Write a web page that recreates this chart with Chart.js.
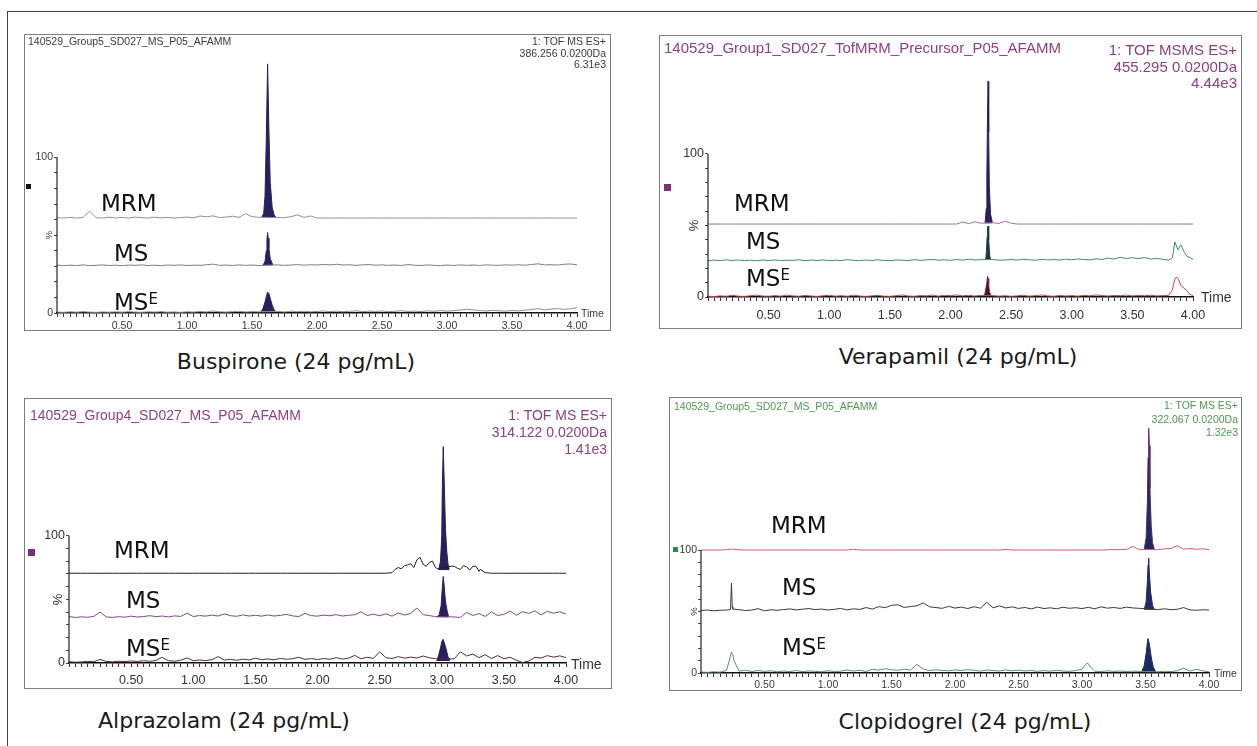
<!DOCTYPE html>
<html><head><meta charset="utf-8">
<script src="https://cdn.jsdelivr.net/npm/chart.js@4.4.1/dist/chart.umd.min.js"></script>
<style>
html,body{margin:0;padding:0;background:#fff;}
body{width:1257px;height:746px;overflow:hidden;position:relative;font-family:"DejaVu Sans",sans-serif;}
.frame{position:absolute;left:7px;top:11px;width:1400px;height:900px;border-left:1.5px solid #444;border-top:1.5px solid #444;}
.box{position:absolute;border:1.5px solid #7d7d7d;box-sizing:border-box;pointer-events:none;}
canvas{position:absolute;}
.hdr{position:absolute;font-family:"Liberation Sans",Arial,sans-serif;white-space:nowrap;}
.hr{text-align:right;}
.lbl{position:absolute;font-family:"DejaVu Sans",sans-serif;font-size:23px;line-height:1;color:#111;transform:translateY(-50%);white-space:nowrap;}
.lbl .e{font-size:15px;vertical-align:top;line-height:1;position:relative;top:1px;}
.cap{position:absolute;width:400px;text-align:center;font-family:"DejaVu Sans",sans-serif;font-size:22px;line-height:1;color:#1a1a1a;transform:translateY(-50%);}
.sq{position:absolute;}
</style>
</head><body>
<div class="frame"></div>

<canvas id="c1" width="587" height="297" style="left:24px;top:34px"></canvas>
<canvas id="c2" width="583" height="294" style="left:659px;top:35px"></canvas>
<canvas id="c3" width="588" height="291" style="left:24px;top:398px"></canvas>
<canvas id="c4" width="573" height="294" style="left:669px;top:397px"></canvas>

<div class="box" style="left:24px;top:34px;width:587px;height:297px"></div>
<div class="box" style="left:659px;top:35px;width:583px;height:294px"></div>
<div class="box" style="left:24px;top:398px;width:588px;height:291px"></div>
<div class="box" style="left:669px;top:397px;width:573px;height:294px"></div>

<!-- headers -->
<div class="hdr" style="left:28px;top:36px;font-size:10.5px;line-height:11.5px;color:#3a3a3a">140529_Group5_SD027_MS_P05_AFAMM</div>
<div class="hdr hr" style="right:651px;top:36px;font-size:10.5px;line-height:11.5px;color:#3a3a3a">1: TOF MS ES+<br>386.256 0.0200Da<br>6.31e3</div>

<div class="hdr" style="left:664px;top:40px;font-size:15px;line-height:16.5px;color:#8e3f85">140529_Group1_SD027_TofMRM_Precursor_P05_AFAMM</div>
<div class="hdr hr" style="right:20px;top:42px;font-size:15px;line-height:16.5px;color:#8e3f85">1: TOF MSMS ES+<br>455.295 0.0200Da<br>4.44e3</div>

<div class="hdr" style="left:30px;top:406.5px;font-size:14px;line-height:17px;color:#8e3f85">140529_Group4_SD027_MS_P05_AFAMM</div>
<div class="hdr hr" style="right:650px;top:406.5px;font-size:14px;line-height:17px;color:#8e3f85">1: TOF MS ES+<br>314.122 0.0200Da<br>1.41e3</div>

<div class="hdr" style="left:674px;top:400px;font-size:10.5px;line-height:13.5px;color:#4e9a4e">140529_Group5_SD027_MS_P05_AFAMM</div>
<div class="hdr hr" style="right:19px;top:399px;font-size:10.5px;line-height:13.5px;color:#4e9a4e">1: TOF MS ES+<br>322.067 0.0200Da<br>1.32e3</div>

<!-- markers -->
<div class="sq" style="left:26px;top:184px;width:5px;height:5px;background:#111"></div>
<div class="sq" style="left:664px;top:184px;width:7px;height:7px;background:#7a2f78"></div>
<div class="sq" style="left:28px;top:549px;width:7px;height:7px;background:#7a2f78"></div>
<div class="sq" style="left:673px;top:547px;width:5px;height:5px;background:#2e8a3e"></div>

<!-- trace labels -->
<div class="lbl" style="left:101px;top:203px">MRM</div>
<div class="lbl" style="left:114px;top:253px">MS</div>
<div class="lbl" style="left:114px;top:302px">MS<span class="e">E</span></div>

<div class="lbl" style="left:734px;top:203px">MRM</div>
<div class="lbl" style="left:746px;top:241px">MS</div>
<div class="lbl" style="left:746px;top:278px">MS<span class="e">E</span></div>

<div class="lbl" style="left:114px;top:550px">MRM</div>
<div class="lbl" style="left:126px;top:600px">MS</div>
<div class="lbl" style="left:126px;top:648px">MS<span class="e">E</span></div>

<div class="lbl" style="left:771px;top:525px">MRM</div>
<div class="lbl" style="left:782px;top:587px">MS</div>
<div class="lbl" style="left:782px;top:647px">MS<span class="e">E</span></div>

<!-- captions -->
<div class="cap" style="left:96px;top:362px">Buspirone (24 pg/mL)</div>
<div class="cap" style="left:758px;top:357px">Verapamil (24 pg/mL)</div>
<div class="cap" style="left:24px;top:721px">Alprazolam (24 pg/mL)</div>
<div class="cap" style="left:765px;top:722px">Clopidogrel (24 pg/mL)</div>

<script>
// ---------------- data ----------------
const TIME = [0.00,0.05,0.10,0.15,0.20,0.25,0.30,0.35,0.40,0.45,
  0.50,0.55,0.60,0.65,0.70,0.75,0.80,0.85,0.90,0.95,
  1.00,1.05,1.10,1.15,1.20,1.25,1.30,1.35,1.40,1.45,
  1.50,1.55,1.60,1.65,1.70,1.75,1.80,1.85,1.90,1.95,
  2.00,2.05,2.10,2.15,2.20,2.25,2.30,2.35,2.40,2.45,
  2.50,2.55,2.60,2.65,2.70,2.75,2.80,2.85,2.90,2.95,
  3.00,3.05,3.10,3.15,3.20,3.25,3.30,3.35,3.40,3.45,
  3.50,3.55,3.60,3.65,3.70,3.75,3.80,3.85,3.90,3.95,
  4.00];
const X_TICK_LABELS = ['0.50','1.00','1.50','2.00','2.50','3.00','3.50','4.00'];
const Y_TICK_LABELS = ['0','100'];

// Buspirone
const BUSP_MRM = [61.2,61.0,61.4,61.0,61.3,65.5,61.2,61.0,61.5,61.1,
  61.4,61.0,61.6,61.2,61.0,61.5,61.1,61.4,61.0,61.3,
  61.6,61.1,62.3,61.8,62.4,61.3,61.6,62.2,61.4,63.8,
  61.8,61.5,61.5,61.5,61.3,61.2,61.9,63.0,61.4,62.3,
  61,61,61,61,61,61,61,61,61,61,
  61,61,61,61,61,61,61,61,61,61,
  61,61,61,61,61,61,61,61,61,61,
  61,61,61,61,61,61,61,61,61,61,
  61];
const BUSP_MRM_PEAK_T = [1.575,1.59,1.60,1.61,1.62,1.63,1.64,1.655,1.67,1.685];
const BUSP_MRM_PEAK_Y = [61.4,64,75,112,160,118,84,68,63,61.3];
const BUSP_MS = [30.8,30.4,30.7,30.5,30.9,30.4,30.6,30.9,30.5,30.7,
  30.4,30.8,30.6,30.9,30.5,30.7,30.4,30.8,30.6,30.9,
  30.5,30.7,30.6,31.0,31.4,30.6,30.8,30.5,30.9,30.6,
  30.8,30.5,30.7,30.7,30.9,30.6,30.8,31.1,30.7,31.0,
  30.8,31.2,30.9,31.3,30.8,31.0,30.6,30.9,31.1,30.7,
  30.9,30.6,30.8,30.5,31.1,30.7,30.5,30.9,30.6,30.4,
  30.8,30.5,30.9,30.6,30.8,30.5,30.9,30.7,30.6,30.9,
  30.7,31.0,30.7,31.1,31.6,30.9,31.0,30.8,31.3,31.5,
  30.9];
const BUSP_MS_PEAK_T = [1.585,1.60,1.61,1.615,1.62,1.625,1.63,1.64,1.66];
const BUSP_MS_PEAK_Y = [30.7,33,40,47,51.6,48,42,35,30.8];
const BUSP_MSE = [0.6,0.4,0.8,0.5,0.9,0.6,0.4,0.7,0.5,0.8,
  0.5,0.9,0.6,0.4,0.8,0.6,0.9,0.5,0.7,0.4,
  0.8,0.6,1.0,0.7,1.3,0.8,0.6,0.9,1.1,0.7,
  0.9,0.8,0.8,0.8,1.0,0.7,1.2,0.9,1.1,0.8,
  1.0,1.3,0.9,1.2,0.8,1.1,1.4,0.9,1.2,1.0,
  1.3,0.9,1.1,1.5,1.0,1.2,0.9,1.4,1.1,1.6,
  1.2,1.5,1.9,2.4,2.0,1.6,1.3,1.7,1.4,1.2,
  1.6,1.3,1.8,2.2,2.8,2.0,2.5,2.9,2.3,2.7,
  3.5];
const BUSP_MSE_PEAK_T = [1.57,1.585,1.60,1.61,1.62,1.63,1.64,1.655,1.67,1.685];
const BUSP_MSE_PEAK_Y = [0.8,3,7,10.5,13.4,12.5,9.5,5,2,0.8];

// Verapamil
const VERA_MRM = [51,51,51,51,51,51,51,51,51,51,
  51,51,51,51,51,51,51,51,51,51,
  51,51,51,51,51,51,51,51,51,51,
  51,51,51,51,51,51,51,51,51,51,
  51,51,52.4,51.3,52.6,51.6,51.5,51.9,51.4,53.0,
  51.6,51,51,51,51,51,51,51,51,51,
  51,51,51,51,51,51,51,51,51,51,
  51,51,51,51,51,51,51,51,51,51,
  51];
const VERA_MRM_PEAK_T = [2.285,2.295,2.30,2.305,2.31,2.315,2.32,2.33,2.345];
const VERA_MRM_PEAK_Y = [51.5,62,85,125,151,115,78,58,52];
const VERA_MS = [25.3,25.8,25.4,26.0,25.5,25.9,25.4,25.7,25.3,25.8,
  25.5,25.9,25.4,25.7,25.6,26.0,25.4,25.8,25.5,25.9,
  25.4,25.7,25.5,26.1,25.6,25.4,25.8,25.5,26.0,25.6,
  25.4,25.9,25.7,25.5,26.1,25.6,25.9,26.3,25.7,26.0,
  25.6,26.2,25.8,26.4,25.9,26.1,25.8,26.3,25.7,25.9,
  26.2,25.8,26.4,26.0,25.7,26.3,25.9,26.2,25.8,26.5,
  26.0,26.6,26.2,25.9,26.7,26.3,27.2,26.5,27.8,26.9,
  27.5,26.8,27.6,26.5,27.0,26.4,25.8,38.5,36.5,28.5,
  26.3];
const VERA_MS_EXTRA_T = [3.83,3.875,3.93];
const VERA_MS_EXTRA_Y = [27.5,33,31];
const VERA_MS_PEAK_T = [2.29,2.297,2.302,2.306,2.31,2.315,2.322,2.33];
const VERA_MS_PEAK_Y = [26,32,42,48,49.6,40,30,26];
const VERA_MSE = [0.5,0.3,0.8,0.5,1.2,0.6,0.4,0.9,1.3,0.7,
  0.5,1.0,0.6,1.3,0.8,0.5,1.1,0.7,0.4,0.9,
  1.2,0.6,0.9,0.5,1.3,0.7,0.4,0.8,1.1,0.6,
  0.5,0.9,1.4,0.7,0.5,1.0,0.8,1.3,0.6,1.2,
  0.9,1.4,0.8,1.2,0.7,1.1,0.8,1.0,0.6,0.9,
  0.5,0.8,1.2,0.6,1.0,1.4,0.8,0.5,1.1,0.7,
  1.0,0.6,1.2,0.8,1.4,1.0,0.7,1.1,0.9,1.3,
  0.8,1.1,0.9,1.2,0.8,1.0,1.2,12.5,8.0,4.5,
  1.0];
const VERA_MSE_EXTRA_T = [3.83,3.865,3.88,3.97];
const VERA_MSE_EXTRA_Y = [5,14,12.5,2];
const VERA_MSE_PEAK_T = [2.28,2.29,2.30,2.305,2.31,2.315,2.32,2.335];
const VERA_MSE_PEAK_Y = [0.8,5,10,14.5,13,9,4,0.8];

// Alprazolam
const ALPR_MRM = [70.5,70.5,70.5,70.5,70.5,70.5,70.5,70.5,70.5,70.5,
  70.5,70.5,70.5,70.5,70.5,70.5,70.5,70.5,70.5,70.5,
  70.5,70.5,70.5,70.5,70.5,70.5,70.5,70.5,70.5,70.5,
  70.5,70.5,70.5,70.5,70.5,70.5,70.5,70.5,70.5,70.5,
  70.5,70.5,70.5,70.5,70.5,70.5,70.5,70.5,70.5,70.5,
  70.5,70.5,71,75,76.5,78,81,77.5,79,75,
  74,74,76,73.5,75.5,76,72,71,70.5,70.5,
  70.5,70.5,70.5,70.5,70.5,70.5,70.5,70.5,70.5,70.5,
  70.5];
const ALPR_MRM_EXTRA_T = [2.625,2.675,2.725,2.775,2.825,2.875,2.925,2.965,3.075,3.125,3.175,3.225,3.275,3.31];
const ALPR_MRM_EXTRA_Y = [73.5,74,77,75,83,76,80,74,76,74.5,76.5,73,76,73.5];
const ALPR_MRM_PEAK_T = [2.975,2.99,3.00,3.005,3.012,3.02,3.03,3.04,3.05,3.06];
const ALPR_MRM_PEAK_Y = [73,80,100,140,170,142,105,88,78,73.5];
const ALPR_MS = [36.5,35.8,36.3,35.9,36.6,40.0,36.2,35.8,36.4,36.0,
  36.8,36.1,36.5,37.2,36.4,36.9,36.2,37.0,36.6,39.2,
  36.5,37.3,36.8,37.6,36.9,38.6,37.2,36.7,37.8,36.9,
  37.5,36.8,37.7,36.9,37.4,38.2,37.0,36.5,39.0,37.2,
  36.8,37.6,37.1,38.0,36.9,37.5,37.9,40.2,37.3,38.4,
  37.1,38.6,36.8,39.3,37.7,38.9,43.2,38.0,37.2,36.5,
  37.0,39.5,36.2,35.8,39.8,37.4,38.8,36.6,40.1,37.3,
  38.2,40.8,37.5,40.3,38.9,41.0,37.8,40.6,39.1,40.2,
  38.5];
const ALPR_MS_PEAK_T = [2.96,2.98,2.995,3.005,3.012,3.02,3.03,3.045,3.055];
const ALPR_MS_PEAK_Y = [36,38,45,60,68,60,48,40,36.5];
const ALPR_MSE = [1.0,0.6,0.8,1.3,1.0,2.8,1.2,0.9,1.4,1.1,
  1.6,1.2,1.8,1.3,2.0,4.5,1.8,1.4,2.2,4.0,
  1.7,2.4,1.9,2.6,5.0,2.3,2.9,2.1,3.0,2.4,
  3.8,2.6,3.2,2.5,3.6,2.9,3.4,4.5,2.8,3.5,
  2.7,3.5,2.9,4.2,3.1,3.8,6.0,3.3,4.5,3.6,
  8.8,4.2,3.5,5.0,3.8,4.6,3.9,5.5,4.1,3.4,
  3.0,4.0,3.2,8.8,5.5,7.0,4.2,6.5,3.5,5.8,
  3.4,4.5,2.2,0.4,1.5,4.5,3.9,5.8,4.6,5.6,
  4.2];
const ALPR_MSE_PEAK_T = [2.96,2.975,2.99,3.00,3.01,3.02,3.035,3.05,3.065];
const ALPR_MSE_PEAK_Y = [1.5,6,12,16.5,18.6,16,11,5,2];

// Clopidogrel
const CLOP_MRM = [100,100,100,100,100.3,100.8,100.2,100,100,100,
  100,100,100,100,100,100,100,100,100,100,
  100,100,100,100,100.6,100,100,100,100,100,
  100,100,100,100,100,100,100,100,100,100,
  100,100,100,100,100,100,100,100,100.5,100,
  100,100,100,100,100,100,100,100,100,100,
  100,100,100,100,100.2,100.4,100.3,100.5,103,100.4,
  100.5,100.8,100.3,101,101.2,103.5,100.8,101.2,100.6,101,
  100.4];
const CLOP_MRM_PEAK_T = [3.49,3.505,3.515,3.52,3.525,3.53,3.535,3.545,3.555,3.57];
const CLOP_MRM_PEAK_Y = [100.5,110,140,175,199,185,150,120,106,100.6];
const CLOP_MS = [50.8,51.2,50.6,51.0,51.2,52.0,51.5,50.8,51.2,52.3,
  50.6,51.4,51.0,51.6,52.1,51.3,51.9,52.4,51.5,52.0,
  51.2,51.8,52.5,51.3,52.2,51.7,53.2,52.0,54.0,53.1,
  55.0,55.5,53.3,54.1,54.6,57.0,53.8,53.2,52.6,54.2,
  52.8,53.6,52.4,53.9,52.7,57.5,53.0,54.6,52.9,53.8,
  52.5,53.3,52.1,53.6,52.4,53.0,52.2,53.5,52.6,53.1,
  52.4,53.4,52.2,53.8,52.7,53.3,52.5,53.6,52.9,52.6,
  52.0,52.8,51.6,52.2,51.5,51.8,53.2,51.3,51.0,51.4,
  51.2];
const CLOP_MS_EXTRA_T = [0.232,0.24,0.246];
const CLOP_MS_EXTRA_Y = [51.5,73,54];
const CLOP_MS_PEAK_T = [3.49,3.505,3.515,3.52,3.525,3.53,3.54,3.555,3.57];
const CLOP_MS_PEAK_Y = [51.5,58,75,88,93.5,82,66,55,51.5];
const CLOP_MSE = [0.8,0.5,1.0,0.7,2.0,15.0,1.5,2.2,1.2,2.0,
  1.3,1.8,1.0,1.6,1.2,2.0,1.1,1.7,1.3,1.0,
  1.8,1.2,1.5,2.4,1.6,2.2,1.3,3.0,2.4,3.5,
  2.6,2.2,3.1,2.4,7.0,3.2,2.0,2.6,2.1,1.8,
  2.5,2.0,2.8,2.2,1.5,2.4,2.0,1.6,2.5,1.8,
  2.3,1.7,2.0,1.4,1.9,1.5,2.2,1.6,1.3,2.0,
  3.0,7.5,1.5,1.2,1.8,1.3,1.6,1.2,1.5,1.3,
  1.0,1.2,1.0,1.4,1.2,1.8,4.0,1.5,3.0,1.8,
  1.0];
const CLOP_MSE_EXTRA_T = [0.22,0.24,0.26,3.02,3.04,3.07];
const CLOP_MSE_EXTRA_Y = [9,17,10,6,8,4.5];
const CLOP_MSE_PEAK_T = [3.47,3.49,3.505,3.515,3.52,3.53,3.545,3.56,3.58];
const CLOP_MSE_PEAK_Y = [1,6,16,25,28,24,13,5,1];

// ---------------- building ----------------
function buildLine(grid, peakT, extraT, extraY) {
  let pts = TIME.map((t, i) => ({x: t, y: grid[i]}));
  if (peakT) {
    const a = peakT[0], b = peakT[peakT.length - 1];
    pts = pts.filter(p => p.x < a || p.x > b);
  }
  if (extraT) extraT.forEach((t, i) => pts.push({x: t, y: extraY[i]}));
  pts.sort((p, q) => p.x - q.x);
  return pts;
}
function peakLine(peakT, peakY) {
  return peakT.map((t, i) => ({x: t, y: peakY[i]}));
}

const decoPlugin = {
  id: 'deco',
  afterDraw(chart, args, o) {
    const {ctx} = chart; const x = chart.scales.x, y = chart.scales.y;
    const x0 = x.getPixelForValue(0);
    ctx.save();
    ctx.strokeStyle = '#222'; ctx.lineWidth = 1.2;
    ctx.beginPath(); ctx.moveTo(x0, y.getPixelForValue(0) + 0.5); ctx.lineTo(x0, y.getPixelForValue(100)); ctx.stroke();
    ctx.fillStyle = o.color;
    ctx.font = o.size + 'px "Liberation Sans", Arial, sans-serif';
    ctx.textBaseline = 'middle'; ctx.textAlign = 'left';
    ctx.fillText('Time', x.getPixelForValue(4) + o.timeGap, y.getPixelForValue(0) + o.timeDy);
    ctx.translate(x0 - o.pctGap, y.getPixelForValue(50));
    ctx.rotate(-Math.PI / 2);
    ctx.textAlign = 'center';
    ctx.font = (o.size - 1) + 'px "Liberation Sans", Arial, sans-serif';
    ctx.fillText('%', 0, 0);
    ctx.restore();
  }
};

function makePanel(id, P) {
  const datasets = [];
  P.traces.forEach(tr => {
    datasets.push({data: buildLine(tr.grid, tr.peakT, tr.extraT, tr.extraY),
      borderColor: tr.color, borderWidth: 1, pointRadius: 0, fill: false, tension: 0});
  });
  P.traces.forEach(tr => {
    datasets.push({data: peakLine(tr.peakT, tr.peakY),
      borderColor: tr.edge || tr.fill, backgroundColor: tr.fill, borderWidth: 1,
      pointRadius: 0, tension: 0,
      fill: {value: Math.min(tr.peakY[0], tr.peakY[tr.peakY.length - 1])}});
  });
  const tickFont = {family: '"Liberation Sans", Arial, sans-serif', size: P.tick};
  new Chart(document.getElementById(id), {
    type: 'line',
    data: {datasets},
    plugins: [decoPlugin],
    options: {
      responsive: false, animation: false, events: [],
      layout: {padding: {left: 0, top: 5, right: P.rpad, bottom: 0}},
      plugins: {legend: {display: false}, tooltip: {enabled: false},
        deco: {color: P.textColor, size: P.timeSize, timeGap: P.timeGap, timeDy: P.timeDy, pctGap: P.pctGap}},
      scales: {
        x: {type: 'linear', min: 0, max: 4,
          afterBuildTicks(s) { const t = []; for (let i = 0; i <= 80; i++) t.push({value: i * 0.05}); s.ticks = t; },
          afterFit(s) { s.height = P.xh; },
          ticks: {autoSkip: false, maxRotation: 0, minRotation: 0, padding: P.xpad, color: P.textColor, font: tickFont,
            callback(v) { const s = Number(v).toFixed(2); return X_TICK_LABELS.includes(s) ? s : ''; }},
          grid: {display: true, drawOnChartArea: false, drawTicks: true, tickLength: 4, tickColor: '#333', tickWidth: 1},
          border: {display: true, color: '#111', width: 1.6}},
        y: {type: 'linear', min: 0, max: P.ymax,
          afterBuildTicks(s) { const t = []; for (let i = 0; i <= 10; i++) t.push({value: i * 10}); s.ticks = t; },
          afterFit(s) { s.width = P.yw; },
          ticks: {autoSkip: false, padding: 1, color: P.textColor, font: tickFont,
            callback(v) { const s = String(Math.round(v)); return Y_TICK_LABELS.includes(s) ? s : ''; }},
          grid: {display: true, drawOnChartArea: false, drawTicks: true, tickLength: 3, tickColor: '#444', tickWidth: 1},
          border: {display: false}}
      }
    }
  });
}

const NAVY = '#26205c';
makePanel('c1', {yw: 33, rpad: 34, xh: 18, ymax: 174.5, tick: 10.5, xpad: 3, textColor: '#3a3a3a',
  timeSize: 10.5, timeGap: 4, timeDy: 1, pctGap: 8,
  traces: [
    {grid: BUSP_MRM, peakT: BUSP_MRM_PEAK_T, peakY: BUSP_MRM_PEAK_Y, color: '#9b8aa3', fill: NAVY},
    {grid: BUSP_MS, peakT: BUSP_MS_PEAK_T, peakY: BUSP_MS_PEAK_Y, color: '#8c7b80', fill: NAVY},
    {grid: BUSP_MSE, peakT: BUSP_MSE_PEAK_T, peakY: BUSP_MSE_PEAK_Y, color: '#8f8f8f', fill: NAVY}]});

makePanel('c2', {yw: 49, rpad: 49, xh: 32, ymax: 177.2, tick: 12.5, xpad: 7, textColor: '#333',
  timeSize: 14, timeGap: 8, timeDy: 1, pctGap: 14,
  traces: [
    {grid: VERA_MRM, peakT: VERA_MRM_PEAK_T, peakY: VERA_MRM_PEAK_Y, color: '#a070a0', fill: '#2a1f5e'},
    {grid: VERA_MS, extraT: VERA_MS_EXTRA_T, extraY: VERA_MS_EXTRA_Y, peakT: VERA_MS_PEAK_T, peakY: VERA_MS_PEAK_Y, color: '#3f8f6a', fill: '#173a40'},
    {grid: VERA_MSE, extraT: VERA_MSE_EXTRA_T, extraY: VERA_MSE_EXTRA_Y, peakT: VERA_MSE_PEAK_T, peakY: VERA_MSE_PEAK_Y, color: '#c8444f', fill: '#3a1838', edge: '#8a2040'}]});

makePanel('c3', {yw: 45, rpad: 46, xh: 26, ymax: 201.5, tick: 12.5, xpad: 6, textColor: '#333',
  timeSize: 14, timeGap: 5, timeDy: 2, pctGap: 11,
  traces: [
    {grid: ALPR_MRM, extraT: ALPR_MRM_EXTRA_T, extraY: ALPR_MRM_EXTRA_Y, peakT: ALPR_MRM_PEAK_T, peakY: ALPR_MRM_PEAK_Y, color: '#222', fill: NAVY},
    {grid: ALPR_MS, peakT: ALPR_MS_PEAK_T, peakY: ALPR_MS_PEAK_Y, color: '#7d4b85', fill: NAVY},
    {grid: ALPR_MSE, peakT: ALPR_MSE_PEAK_T, peakY: ALPR_MSE_PEAK_Y, color: '#5a2a35', fill: NAVY}]});

makePanel('c4', {yw: 32, rpad: 33, xh: 18, ymax: 218.5, tick: 10.5, xpad: 2, textColor: '#3a3a3a',
  timeSize: 10.5, timeGap: 5, timeDy: 1, pctGap: 7,
  traces: [
    {grid: CLOP_MRM, peakT: CLOP_MRM_PEAK_T, peakY: CLOP_MRM_PEAK_Y, color: '#d45a78', fill: '#1f2a60', edge: '#5a2a5e'},
    {grid: CLOP_MS, extraT: CLOP_MS_EXTRA_T, extraY: CLOP_MS_EXTRA_Y, peakT: CLOP_MS_PEAK_T, peakY: CLOP_MS_PEAK_Y, color: '#3a3a3a', fill: '#1f2a60'},
    {grid: CLOP_MSE, extraT: CLOP_MSE_EXTRA_T, extraY: CLOP_MSE_EXTRA_Y, peakT: CLOP_MSE_PEAK_T, peakY: CLOP_MSE_PEAK_Y, color: '#5d8f72', fill: '#1f2a60'}]});
</script>
</body></html>
